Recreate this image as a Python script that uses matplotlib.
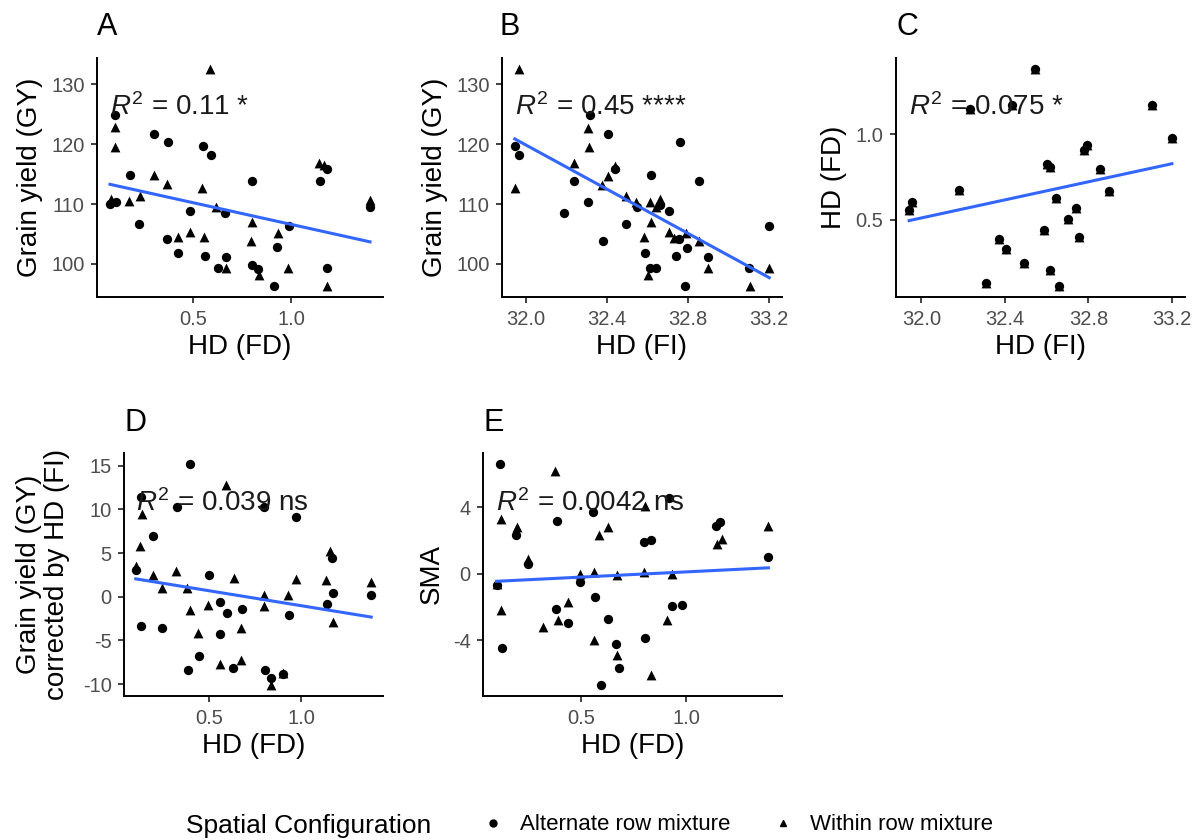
import matplotlib
matplotlib.use("Agg")
import matplotlib.pyplot as plt
from matplotlib.lines import Line2D
import numpy as np

plt.rcParams['font.family'] = ['Liberation Sans', 'DejaVu Sans']
plt.rcParams['mathtext.fontset'] = 'custom'
plt.rcParams['mathtext.rm'] = 'Liberation Sans'
plt.rcParams['mathtext.it'] = 'Liberation Sans:italic'
plt.rcParams['axes.unicode_minus'] = False

# panel A : grain yield vs HD (FD)
a_alt_x = [0.107, 0.305, 0.376, 0.551, 0.590, 0.181, 0.80, 1.147, 1.181, 0.080, 0.110, 0.229, 0.486,
           0.661, 0.368, 0.424, 0.563, 0.627, 0.669, 0.80, 0.831, 0.929, 0.986, 0.912, 1.178, 1.398]
a_alt_y = [124.9, 121.8, 120.3, 119.7, 118.2, 114.9, 113.9, 113.9, 115.8, 110.0, 110.3, 106.7, 108.8,
           108.5, 104.1, 101.8, 101.4, 99.4, 101.2, 99.8, 99.2, 102.8, 106.3, 96.4, 99.4, 109.6]
a_win_x = [0.585, 0.107, 0.107, 0.305, 0.368, 0.547, 0.178, 0.232, 0.619, 0.80, 0.932, 0.488, 0.559,
           0.424, 0.797, 0.669, 0.834, 0.983, 1.181, 1.398, 0.085, 1.141, 1.164]
a_win_y = [132.6, 122.9, 119.5, 114.8, 113.3, 112.7, 110.6, 111.3, 109.6, 107.0, 105.2, 105.3, 104.5,
           104.5, 103.9, 99.3, 98.1, 99.3, 96.3, 110.7, 110.8, 116.9, 116.6]

# panel B : grain yield vs HD (FI)
b_alt_x = [31.946, 31.966, 32.316, 32.404, 32.760, 32.441, 32.238, 32.619, 32.855, 32.308, 32.186, 32.546, 32.709,
           32.66, 32.495, 32.379, 32.590, 32.741, 32.795, 32.758, 32.611, 32.644, 32.90, 32.786, 33.103, 33.2]
b_alt_y = [119.7, 118.2, 124.9, 121.8, 120.3, 115.8, 113.9, 114.9, 113.9, 110.3, 108.5, 109.6, 108.8,
           109.9, 106.7, 103.9, 101.8, 101.4, 102.7, 104.1, 99.4, 99.3, 101.2, 96.4, 99.4, 106.4]
b_win_x = [31.963, 31.943, 32.308, 32.311, 32.235, 32.438, 32.404, 32.376, 32.493, 32.542, 32.611, 32.663,
           32.644, 32.619, 32.582, 32.709, 32.790, 32.855, 32.733, 32.603, 32.9, 33.106, 33.203]
b_win_y = [132.6, 112.7, 122.8, 119.5, 116.8, 116.4, 114.7, 113.2, 111.3, 110.4, 110.4, 110.8,
           109.6, 107.0, 104.5, 105.3, 105.2, 103.9, 104.3, 98.1, 99.3, 96.3, 99.3]

# panel C : HD (FD) vs HD (FI), same values for both configurations
c_x = [32.544, 32.232, 32.435, 33.104, 33.2, 32.792, 32.781, 32.6, 32.616, 32.856, 32.181, 32.901, 32.643,
       31.955, 31.941, 32.739, 32.704, 32.589, 32.373, 32.757, 32.405, 32.491, 32.616, 32.309, 32.661]
c_y = [1.382, 1.149, 1.170, 1.170, 0.977, 0.936, 0.909, 0.826, 0.81, 0.800, 0.674, 0.671, 0.628,
       0.603, 0.558, 0.568, 0.506, 0.442, 0.390, 0.399, 0.328, 0.250, 0.209, 0.134, 0.114]

# panel D : corrected grain yield vs HD (FD)
d_alt_x = [0.396, 0.131, 0.326, 0.797, 0.973, 0.198, 0.104, 0.50, 1.165, 1.171, 1.378, 1.138, 0.559,
           0.595, 0.680, 0.935, 0.131, 0.248, 0.559, 0.446, 0.387, 0.631, 0.802, 0.836, 0.901]
d_alt_y = [15.2, 11.4, 10.3, 10.3, 9.1, 7.0, 3.1, 2.5, 4.4, 0.4, 0.2, -0.85, -0.6,
           -1.9, -1.4, -2.1, -3.4, -3.6, -4.3, -6.8, -8.4, -8.2, -8.4, -9.3, -8.8]
d_win_x = [0.594, 0.135, 0.128, 0.104, 0.198, 0.324, 0.248, 0.383, 0.635, 0.973, 1.133, 1.378, 0.396,
           0.496, 0.797, 0.797, 0.928, 0.442, 0.671, 1.171, 0.559, 0.671, 0.901, 0.833, 1.157]
d_win_y = [12.8, 9.5, 5.8, 3.5, 2.5, 3.0, 1.0, 1.0, 2.1, 2.0, 1.9, 1.7, -1.5,
           -1.0, 0.2, -1.1, 0.2, -4.1, -3.6, -2.9, -7.7, -7.2, -8.7, -10.1, 5.2]

# panel E : SMA vs HD (FD)
e_alt_x = [0.118, 0.388, 0.559, 0.917, 0.193, 0.248, 1.159, 1.139, 0.80, 0.832, 1.389, 0.10,
           0.497, 0.567, 0.380, 0.439, 0.626, 0.930, 0.980, 0.804, 0.665, 0.126, 0.679, 0.593]
e_alt_y = [6.6, 3.2, 3.7, 4.55, 2.3, 0.6, 3.1, 2.9, 1.9, 2.0, 1.0, -0.7,
           -0.5, -1.4, -2.1, -3.0, -2.75, -1.96, -1.86, -3.85, -4.25, -4.5, -5.7, -6.7]
e_win_x = [0.375, 0.804, 0.123, 0.198, 0.629, 0.587, 0.248, 1.167, 1.143, 1.389, 0.497, 0.564,
           0.673, 0.80, 0.930, 0.10, 0.123, 0.437, 0.390, 0.318, 0.910, 0.561, 0.670, 0.830]
e_win_y = [6.2, 4.05, 3.3, 2.8, 2.8, 2.3, 0.9, 2.1, 1.8, 2.9, 0.0, 0.1,
           -0.05, 0.1, 0.0, -0.6, -2.2, -1.7, -2.8, -3.2, -2.8, -4.0, -4.9, -6.1]

r2_labels = ["0.11 *", "0.45 ****", "0.075 *", "0.039 ns", "0.0042 ns"]

W, H = 1201, 840
fig = plt.figure(figsize=(W / 100, H / 100), dpi=100)

def px_axes(l, t, r, b):
    return fig.add_axes([l / W, 1 - b / H, (r - l) / W, (b - t) / H])

def style(ax, xticks, yticks, xlabel, ylabel, ypad=6):
    for s in ['top', 'right']:
        ax.spines[s].set_visible(False)
    for s in ['left', 'bottom']:
        ax.spines[s].set_linewidth(1.4)
        ax.spines[s].set_color('black')
    ax.set_xticks(xticks)
    ax.set_yticks(yticks)
    ax.tick_params(length=4, width=1.3, color='#333333', labelsize=14.5, labelcolor='#4d4d4d', pad=5)
    ax.set_xlabel(xlabel, fontsize=20, labelpad=4)
    ax.set_ylabel(ylabel, fontsize=20, labelpad=ypad, linespacing=1.1)

def panel(ax, alt_x, alt_y, win_x, win_y, r2):
    ax.scatter(alt_x, alt_y, marker='o', s=45, color='black', linewidths=0, zorder=2)
    ax.scatter(win_x, win_y, marker='^', s=50, color='black', linewidths=0, zorder=2)
    xs = np.array(list(alt_x) + list(win_x))
    ys = np.array(list(alt_y) + list(win_y))
    k, b = np.polyfit(xs, ys, 1)
    lx = np.array([xs.min(), xs.max()])
    ax.plot(lx, k * lx + b, color='#3366FF', lw=2.2, zorder=3)
    ax.text(0.045, 0.76, r"$R^2$ = " + r2, transform=ax.transAxes, fontsize=20,
            va='baseline', ha='left', color='#1a1a1a', zorder=4)

ax_a = px_axes(97, 58, 383, 297)
panel(ax_a, a_alt_x, a_alt_y, a_win_x, a_win_y, r2_labels[0])
style(ax_a, [0.5, 1.0], [100, 110, 120, 130], "HD (FD)", "Grain yield (GY)")

ax_b = px_axes(502, 58, 782, 297)
panel(ax_b, b_alt_x, b_alt_y, b_win_x, b_win_y, r2_labels[1])
style(ax_b, [32.0, 32.4, 32.8, 33.2], [100, 110, 120, 130], "HD (FI)", "Grain yield (GY)")

ax_c = px_axes(896, 58, 1185, 297)
panel(ax_c, c_x, c_y, c_x, c_y, r2_labels[2])
style(ax_c, [32.0, 32.4, 32.8, 33.2], [0.5, 1.0], "HD (FI)", "HD (FD)")

ax_d = px_axes(124, 453, 383, 696)
panel(ax_d, d_alt_x, d_alt_y, d_win_x, d_win_y, r2_labels[3])
style(ax_d, [0.5, 1.0], [-10, -5, 0, 5, 10, 15], "HD (FD)", "Grain yield (GY)\ncorrected by HD (FI)", ypad=9)

ax_e = px_axes(483, 453, 782, 696)
panel(ax_e, e_alt_x, e_alt_y, e_win_x, e_win_y, r2_labels[4])
style(ax_e, [0.5, 1.0], [-4, 0, 4], "HD (FD)", "SMA")

# panel tags
for tag, x, y in [("A", 97, 35), ("B", 500, 35), ("C", 896, 35), ("D", 125, 431), ("E", 484, 431)]:
    fig.text(x / W, 1 - y / H, tag, fontsize=22, ha='left', va='baseline')

# legend
fig.text(186 / W, 1 - 833 / H, "Spatial Configuration", fontsize=19, ha='left', va='baseline')
handles = [Line2D([], [], ls='none', marker='o', color='black', markersize=5),
           Line2D([], [], ls='none', marker='^', color='black', markersize=5)]
fig.legend(handles, ["Alternate row mixture", "Within row mixture"], loc='center left',
           bbox_to_anchor=(482 / W, 1 - 825 / H), ncol=2, frameon=False, fontsize=16,
           handlelength=1.0, handletextpad=0.7, columnspacing=1.9, borderpad=0, borderaxespad=0)

fig.savefig("out.png", dpi=100)
